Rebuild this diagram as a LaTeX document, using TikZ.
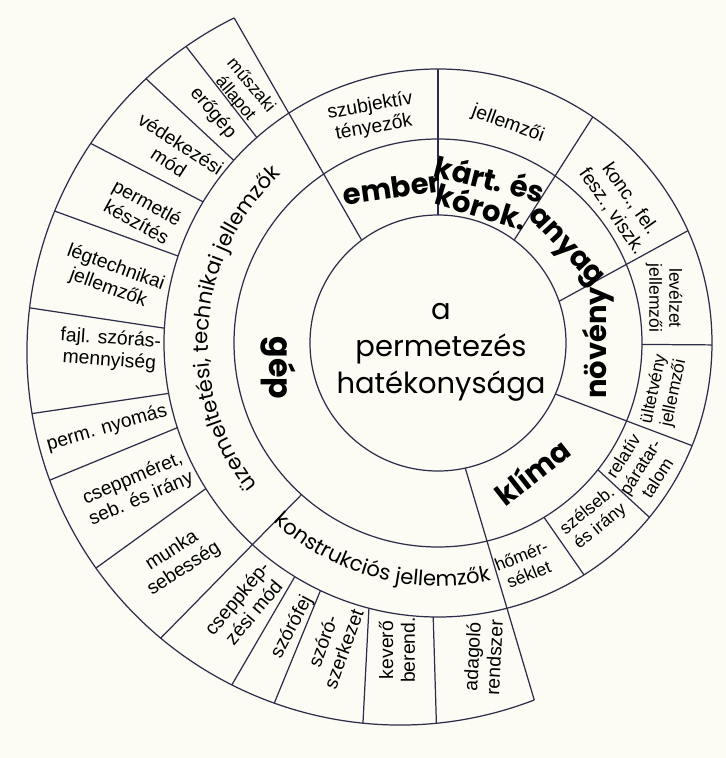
\documentclass[tikz,border=0pt]{standalone}
\usepackage{fontspec}
\setmainfont{Liberation Sans}
\newfontfamily\geofont{Poppins}
\usetikzlibrary{decorations.text}

\definecolor{paper}{RGB}{252,252,244}
\definecolor{ink}{RGB}{45,45,75}

\tikzset{
  centre/.style={font=\geofont\fontsize{16.5}{21}\selectfont, align=center},
  cat/.style={font=\geofont\bfseries\fontsize{16.5}{20}\selectfont, inner sep=0pt},
  item/.style={font=\fontsize{11}{12.5}\selectfont, align=center, inner sep=0pt},
  tightitem/.style={item, font=\fontsize{10}{11.5}\selectfont},
  ring/.style={draw=ink, line width=0.7pt},
}

\begin{document}
\begin{tikzpicture}[x=0.02cm, y=0.02cm]
  \fill[paper] (-438,-415) rectangle (288,343);
  \useasboundingbox (-438,-415) rectangle (288,343);
  \coordinate (o3) at (-38,-9);

  % circles
  \draw[ring] (0,0) circle[radius=128];
  \draw[ring] (0,0) circle[radius=204];
  \draw[ring] (0,0) circle[radius=274];
  \draw[ring] ([shift={(116.4:373)}]o3) arc[start angle=116.4, end angle=291.1, radius=373];

  % spokes, inner rings
  \draw[ring] (126.6:128) -- ([shift={(116.4:373)}]o3);
  \draw[ring] (90:128) -- (90:274);
  \draw[ring] (53.5:128) -- (55.6:274);
  \draw[ring] (19:128) -- (24.2:274);
  \draw[ring] (-0.4:204) -- (-0.4:274);
  \draw[ring] (-23.5:128) -- (-22:274);
  \draw[ring] (-38.4:204) -- (-39.5:274);
  \draw[ring] (-58.7:204) -- (-57.8:274);
  \draw[ring] (-77.7:128) -- ([shift={(291.1:373)}]o3);
  \draw[ring] (228:204) -- ([shift={(230.1:373)}]o3);

  % spokes, outer ring
  \draw[ring] (131.4:274) -- ([shift={(125:373)}]o3);
  \draw[ring] (138.2:274) -- ([shift={(132.9:373)}]o3);
  \draw[ring] (149:274) -- ([shift={(146:373)}]o3);
  \draw[ring] (161.5:274) -- ([shift={(157.8:373)}]o3);
  \draw[ring] (176.9:274) -- ([shift={(173.2:373)}]o3);
  \draw[ring] (190.6:274) -- ([shift={(189.5:373)}]o3);
  \draw[ring] (198:274) -- ([shift={(200.1:373)}]o3);
  \draw[ring] (212.1:274) -- ([shift={(215.4:373)}]o3);
  \draw[ring] (238.5:274) -- ([shift={(243.2:373)}]o3);
  \draw[ring] (244.6:274) -- ([shift={(250.3:373)}]o3);
  \draw[ring] (255.4:274) -- ([shift={(264.3:373)}]o3);
  \draw[ring] (269:274) -- ([shift={(275.6:373)}]o3);

  % centre
  \node[centre] (hatekonysag) at (3,-9) {a\\permetezés\\hatékonysága};

  % main factors
  \node[cat, rotate=8] (ember) at (-46,155) {ember};
  \node[cat, rotate=-14] (kart) at (52,165) {kárt. és};
  \node[cat, rotate=-17] (korok) at (44,137) {kórok.};
  \node[cat, rotate=-47] (anyag) at (126,94) {anyag};
  \node[cat, rotate=90] (noveny) at (160,0) {növény};
  \node[cat, rotate=38] (klima) at (94,-129) {klíma};
  \node[cat, rotate=-90, font=\geofont\bfseries\fontsize{18}{20}\selectfont] (gep) at (-160,-25) {gép};

  % curved ring texts
  \path[decorate, decoration={text along path, text align=center,
      text={|\geofont\fontsize{12}{12}\selectfont|üzemeltetési, technikai jellemzők}}]
    (228:230) arc[start angle=228, end angle=123, radius=230];
  \path[decorate, decoration={text along path, text align=center,
      text={|\geofont\fontsize{12}{12}\selectfont|konstrukciós jellemzők}}]
    (228:243) arc[start angle=228, end angle=282, radius=243];

  % second ring
  \node[item, rotate=10] (szubjektiv) at (-66,226) {szubjektív\\tényezők};
  \node[item, rotate=-20] (kartjell) at (70,219) {jellemzői};
  \node[item, rotate=-55] (konc) at (183,138) {konc., fel.\\fesz., viszk.};
  \node[tightitem, rotate=-90] (levelzet) at (226,45) {levélzet\\jellemzői};
  \node[tightitem, rotate=78] (ultetveny) at (226,-48) {ültetvény\\jellemzői};
  \node[tightitem, rotate=57] (paratartalom) at (202,-124) {relatív\\páratar-\\talom};
  \node[tightitem, rotate=39] (szelseb) at (156,-176) {szélseb.\\és irány};
  \node[tightitem, rotate=22] (homerseklet) at (87,-222) {hőmér-\\séklet};

  % outer ring
  \node[tightitem, rotate=-50] (muszaki) at (-195,251) {műszaki\\állapot};
  \node[item, rotate=-50] (erogep) at (-225,230) {erőgép};
  \node[item, rotate=-33] (vedekezesi) at (-263,190) {védekezési\\mód};
  \node[item, rotate=-29] (permetle) at (-296,131) {permetlé\\készítés};
  \node[item, rotate=-20] (legtechnikai) at (-326,65) {légtechnikai\\jellemzők};
  \node[item, rotate=-4] (fajl) at (-328,-7) {fajl. szórás-\\mennyiség};
  \node[item, rotate=16] (nyomas) at (-331,-85) {perm. nyomás};
  \node[item, rotate=23] (cseppmeret) at (-301,-146) {cseppméret,\\seb. és irány};
  \node[item, rotate=33] (munka) at (-260,-217) {munka\\sebesség};
  \node[item, rotate=50] (cseppkepzesi) at (-193,-262) {cseppkép-\\zési mód};
  \node[item, rotate=62] (szorofej) at (-146,-284) {szórófej};
  \node[item, rotate=70] (szerkezet) at (-105,-302) {szóró-\\szerkezet};
  \node[item, rotate=90] (kevero) at (-41,-307) {keverő\\berend.};
  \node[item, rotate=87] (adagolo) at (45,-314) {adagoló\\rendszer};
\end{tikzpicture}
\end{document}
